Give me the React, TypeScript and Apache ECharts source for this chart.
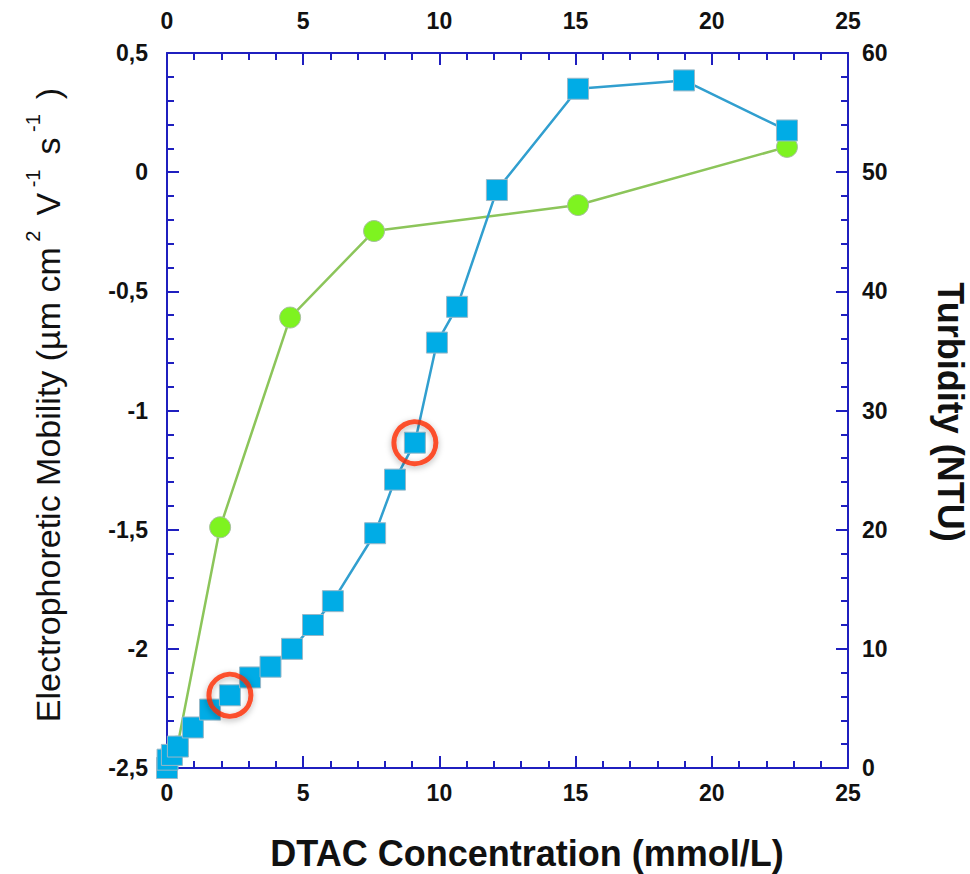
import React, { useEffect, useRef } from "react";
import * as echarts from "echarts";

// DTAC concentration (mmol/L) for electrophoretic mobility series
const mobilityX = [0, 0.05, 0.38, 1.95, 4.52, 7.6, 15.09, 22.76];
const mobilityY = [-2.49, -2.45, -2.41, -1.49, -0.61, -0.247, -0.138, 0.106];

// DTAC concentration (mmol/L) for turbidity series
const turbidityX = [0, 0.02, 0.18, 0.4, 0.95, 1.58, 2.31, 3.05, 3.8, 4.59, 5.36, 6.09, 7.64, 8.37, 9.1, 9.91, 10.65, 12.11, 15.09, 18.98, 22.76];
const turbidityY = [0, 0.7, 1.1, 1.8, 3.4, 4.9, 6.1, 7.6, 8.5, 10.0, 12.0, 14.0, 19.7, 24.2, 27.3, 35.7, 38.7, 48.5, 57.0, 57.7, 53.5];

// highlighted turbidity points (indices into turbidity arrays)
const highlightIdx = [6, 14];

const xTicks = { min: 0, max: 25, interval: 5 };
const leftTicks = { min: -2.5, max: 0.5, interval: 0.5 };
const rightTicks = { min: 0, max: 60, interval: 10 };

const FONT = '"Liberation Sans", Arial, Helvetica, sans-serif';
const AXIS_COLOR = "#1f1fbf";

export default function App() {
  const ref = useRef<HTMLDivElement>(null);

  useEffect(() => {
    if (!ref.current) return;
    const chart = echarts.init(ref.current, null, { renderer: "svg" });

    const axisCommon = {
      axisLine: { show: true, onZero: false, lineStyle: { color: AXIS_COLOR, width: 2 } },
      axisTick: { show: true, inside: true, length: 12, lineStyle: { color: AXIS_COLOR, width: 2 } },
      minorTick: { show: true, splitNumber: 5, length: 7, lineStyle: { color: AXIS_COLOR, width: 2 } },
      splitLine: { show: false },
      axisLabel: {
        color: "#111",
        fontFamily: FONT,
        fontWeight: "bold" as const,
        fontSize: 23,
      },
    };

    const mobility = mobilityX.map((x, i) => [x, mobilityY[i]]);
    const turbidity = turbidityX.map((x, i) => [x, turbidityY[i]]);
    const highlights = highlightIdx.map((i) => [turbidityX[i], turbidityY[i]]);

    chart.setOption({
      animation: false,
      backgroundColor: "#ffffff",
      grid: { left: 167, right: 122, top: 53, bottom: 106, containLabel: false },
      xAxis: [
        {
          type: "value",
          position: "bottom",
          ...xTicks,
          ...axisCommon,
          axisLabel: { ...axisCommon.axisLabel, margin: 13 },
        },
        {
          type: "value",
          position: "top",
          ...xTicks,
          ...axisCommon,
          axisLabel: { ...axisCommon.axisLabel, margin: 21 },
        },
      ],
      yAxis: [
        {
          type: "value",
          position: "left",
          ...leftTicks,
          ...axisCommon,
          axisLabel: {
            ...axisCommon.axisLabel,
            margin: 19,
            formatter: (v: number) => String(v).replace(".", ","),
          },
        },
        {
          type: "value",
          position: "right",
          ...rightTicks,
          ...axisCommon,
          axisLabel: { ...axisCommon.axisLabel, margin: 14 },
        },
      ],
      graphic: [
        {
          type: "text",
          x: 44,
          y: 405,
          rotation: Math.PI / 2,
          style: {
            text: "{a|Electrophoretic Mobility (µm cm}{s| 2 }{a| V}{s| -1 }{a| s}{s| -1 }{a| )}",
            align: "center",
            verticalAlign: "middle",
            fill: "#111",
            rich: {
              a: { fontFamily: FONT, fontSize: 34, lineHeight: 42, verticalAlign: "bottom", fill: "#111" },
              s: { fontFamily: FONT, fontSize: 20, lineHeight: 42, verticalAlign: "top", fill: "#111" },
            },
          },
        },
        {
          type: "text",
          x: 950,
          y: 412,
          rotation: -Math.PI / 2,
          style: {
            text: "Turbidity (NTU)",
            align: "center",
            verticalAlign: "middle",
            fontFamily: FONT,
            fontWeight: "bold",
            fontSize: 36,
            fill: "#111",
          },
        },
        {
          type: "text",
          x: 527,
          y: 853,
          style: {
            text: "DTAC Concentration (mmol/L)",
            align: "center",
            verticalAlign: "middle",
            fontFamily: FONT,
            fontWeight: "bold",
            fontSize: 36,
            fill: "#111",
          },
        },
      ],
      series: [
        {
          name: "Electrophoretic Mobility",
          type: "line",
          xAxisIndex: 0,
          yAxisIndex: 0,
          data: mobility,
          symbol: "circle",
          symbolSize: 21,
          lineStyle: { color: "#8cc55a", width: 2.5 },
          itemStyle: { color: "#7ef320", borderColor: "#a8c0a0", borderWidth: 1 },
          z: 2,
        },
        {
          name: "Turbidity",
          type: "line",
          xAxisIndex: 0,
          yAxisIndex: 1,
          data: turbidity,
          symbol: "rect",
          symbolSize: 21,
          lineStyle: { color: "#319fcf", width: 2.5 },
          itemStyle: { color: "#00ace6", borderColor: "#98b8c8", borderWidth: 1 },
          z: 3,
        },
        {
          name: "Highlight",
          type: "scatter",
          xAxisIndex: 0,
          yAxisIndex: 1,
          data: highlights,
          symbol: "circle",
          symbolSize: 42,
          itemStyle: {
            color: "rgba(0,0,0,0)",
            borderColor: "#ff2a00",
            borderWidth: 5,
            shadowBlur: 6,
            shadowColor: "rgba(0,0,0,0.35)",
            shadowOffsetY: 2,
          },
          z: 4,
        },
      ],
    });

    return () => chart.dispose();
  }, []);

  return (
    <div
      ref={ref}
      style={{ position: "fixed", left: 0, top: 0, width: 970, height: 874, background: "#fff" }}
    />
  );
}
